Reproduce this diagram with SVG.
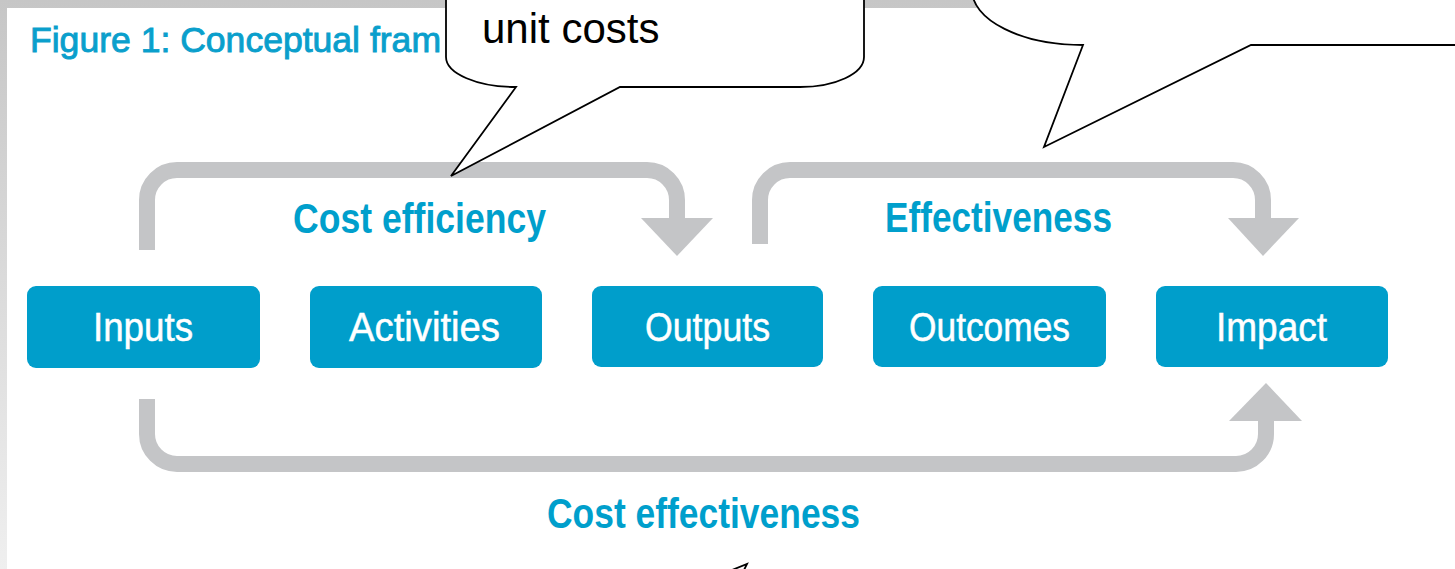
<svg xmlns="http://www.w3.org/2000/svg" width="1455" height="569" viewBox="0 0 1455 569">
  <defs>
    <linearGradient id="bg" x1="0" y1="0" x2="0" y2="1">
      <stop offset="0" stop-color="#c6c6c6"/>
      <stop offset="1" stop-color="#efefef"/>
    </linearGradient>
  </defs>
  <style>
    .box { fill: #009ecb; }
    .boxtxt { font-family: "Liberation Sans Narrow", "Liberation Sans", Arial, sans-serif; font-size: 40px; fill: #ffffff; stroke: #ffffff; stroke-width: 0.5; }
    .lbl { font-family: "Liberation Sans Narrow", "Liberation Sans", Arial, sans-serif; font-size: 43px; font-weight: bold; fill: #009fcc; }
    .title { font-family: "Liberation Sans Narrow", "Liberation Sans", Arial, sans-serif; font-size: 35px; fill: #0a9fcc; stroke: #0a9fcc; stroke-width: 0.9; }
    .flow { fill: none; stroke: #c4c5c7; stroke-width: 16; stroke-linecap: butt; }
    .head { fill: #c4c5c7; }
    .callout { fill: #ffffff; stroke: #000000; stroke-width: 1.8; stroke-linejoin: miter; }
    .ctxt { font-family: "Liberation Sans", Arial, sans-serif; font-size: 42px; fill: #000000; }
  </style>

  <rect x="0" y="0" width="1455" height="569" fill="url(#bg)"/>
  <rect x="7" y="8" width="1448" height="561" fill="#ffffff"/>

  <text class="title" x="30" y="52" textLength="411" lengthAdjust="spacingAndGlyphs">Figure 1: Conceptual fram</text>

  <g id="connectors">
    <path class="flow" d="M147,250 V200 A30,30 0 0 1 177,170 H647 A30,30 0 0 1 677,200 V220"/>
    <polygon class="head" points="641,218 713,218 677,256"/>
    <path class="flow" d="M760,244 V200 A30,30 0 0 1 790,170 H1233 A30,30 0 0 1 1263,200 V220"/>
    <polygon class="head" points="1228,218 1299,218 1263,256"/>
    <path class="flow" d="M147,399 V434 A30,30 0 0 0 177,464 H1236 A30,30 0 0 0 1266,434 V419"/>
    <polygon class="head" points="1229,421 1302,421 1266,383"/>
  </g>

  <g id="label-cost-efficiency">
    <text class="lbl" x="293" y="233" textLength="253" lengthAdjust="spacingAndGlyphs">Cost efficiency</text>
  </g>
  <g id="label-effectiveness">
    <text class="lbl" x="885" y="232" textLength="227" lengthAdjust="spacingAndGlyphs">Effectiveness</text>
  </g>
  <g id="label-cost-effectiveness">
    <text class="lbl" x="547" y="528" textLength="313" lengthAdjust="spacingAndGlyphs">Cost effectiveness</text>
  </g>

  <g id="node-inputs">
    <rect class="box" x="27" y="286" width="233" height="82" rx="9"/>
    <text class="boxtxt" x="93" y="341" textLength="100" lengthAdjust="spacingAndGlyphs">Inputs</text>
  </g>
  <g id="node-activities">
    <rect class="box" x="310" y="286" width="232" height="82" rx="9"/>
    <text class="boxtxt" x="349" y="341" textLength="151" lengthAdjust="spacingAndGlyphs">Activities</text>
  </g>
  <g id="node-outputs">
    <rect class="box" x="592" y="286" width="231" height="81" rx="9"/>
    <text class="boxtxt" x="645" y="341" textLength="125" lengthAdjust="spacingAndGlyphs">Outputs</text>
  </g>
  <g id="node-outcomes">
    <rect class="box" x="873" y="286" width="233" height="81" rx="9"/>
    <text class="boxtxt" x="909" y="341" textLength="161" lengthAdjust="spacingAndGlyphs">Outcomes</text>
  </g>
  <g id="node-impact">
    <rect class="box" x="1156" y="286" width="232" height="81" rx="9"/>
    <text class="boxtxt" x="1216" y="341" textLength="111" lengthAdjust="spacingAndGlyphs">Impact</text>
  </g>

  <g id="callout-unit-costs">
    <path class="callout" d="M446,-40 L446,57 A70,30 0 0 0 516,87 L451,176 L620,87 L800,87 A64,30 0 0 0 864,57 L864,-40 Z"/>
    <text class="ctxt" x="482" y="43">unit costs</text>
  </g>

  <g id="callout-right">
    <path class="callout" d="M972,-60 L972,-10 A111,55 0 0 0 1083,45 L1044,147 L1251,45 L1470,45 L1470,-60 Z"/>
  </g>

  <g id="callout-bottom">
    <path class="callout" d="M712,578 L747,564 L740,578"/>
  </g>
</svg>
